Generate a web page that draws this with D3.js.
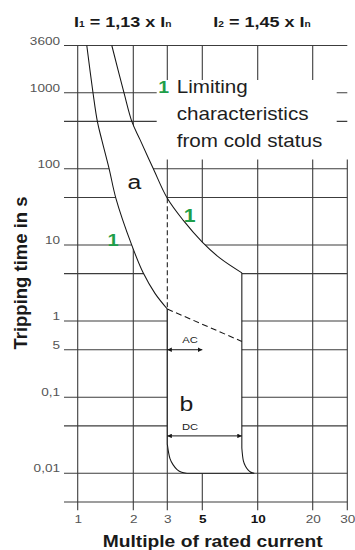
<!DOCTYPE html>
<html><head><meta charset="utf-8">
<script src="https://cdn.jsdelivr.net/npm/d3@7"></script>
<style>body{margin:0;background:#fff} svg{display:block}</style>
</head><body>
<svg id="c" width="355" height="550"></svg>
<script>
// ---------------- data ----------------
const xTicks = [1, 2, 3, 5, 10, 20, 30];
const xTickLabels = ["1", "2", "3", "5", "10", "20", "30"];
const xBoldTicks = [5, 10];
const yGrid = [3600, 1000, 420, 100, 42, 10, 4.2, 1, 0.42, 0.1, 0.042, 0.01, 0.0042];
const yTickValues = [3600, 1000, 100, 10, 1, 0.42, 0.1, 0.01];
const yTickLabels = ["3600", "1000", "100", "10", "1", "5", "0,1", "0,01"];
// thermal band "a": lower and upper limiting characteristic [multiple, seconds]
const curveLower = [[1.12,3600],[1.21,1000],[1.28,410],[1.35,240],[1.48,100],[1.61,41],[1.96,10],[2.25,4.3],[2.59,2.31],[3,1.44]];
const curveUpper = [[1.53,3600],[1.78,1000],[1.97,410],[2.17,240],[2.54,100],[3,41],[3.79,21],[5,10.9],[6.24,6.7],[8.2,4.3]];
// magnetic band "b"
const magLeftEdge = [[3,1.44],[3,0.0242]];
const magCornerLeft = [[3,0.0242],[3.12,0.0156],[3.26,0.013],[3.46,0.0112],[3.7,0.0103],[4,0.01]];
const magBottom = [[4,0.01],[9.58,0.01]];
const magCornerRight = [[9.58,0.01],[9.2,0.0103],[8.86,0.0111],[8.57,0.0125],[8.36,0.0146],[8.2,0.0215]];
const magRightEdge = [[8.2,0.0215],[8.2,4.3]];
const dashedVertical = [[3,41],[3,1.44]];
const dashedDiagonal = [[3,1.44],[8.2,0.54]];
const acArrow = [[3,0.42],[5,0.42]];
const dcArrow = [[3,0.031],[8.2,0.031]];
const titles = [["I","1"," = 1,13 x I","n"],["I","2"," = 1,45 x I","n"]];
const boxLines = ["Limiting", "characteristics", "from cold status"];

// ---------------- setup ----------------
const svg = d3.select("#c");
const FONT = "'Liberation Sans', Arial, Helvetica, sans-serif";
const SX = 1.18;
const GREEN = "#1f9e4a";
const GRID = "#3c3c3c";

const x = d3.scaleLog().domain(xTicks).range([77.7,133.3,167.3,202.3,257.7,312.7,347.3]);
const y = d3.scaleLog().domain([3600, 1000, 0.01]).range([45.5, 92.7, 473.3]);

const gridLeft = 64, gridTop = y(3600), gridBottom = y(0.0042), tickBottom = gridBottom + 8.3;
const box = {x0: 156.7, x1: 336.7, y0: 80, y1: 159.5};

function stext(parent, px, py, str, o) {
  return parent.append("text")
    .attr("transform", `translate(${px},${py}) scale(${o.sx || SX},1)`)
    .attr("font-family", FONT)
    .attr("font-size", o.size)
    .attr("font-weight", o.weight || "normal")
    .attr("fill", o.fill || "#1a1a1a")
    .attr("text-anchor", o.anchor || "start")
    .text(str);
}

// ---------------- grid ----------------
const grid = svg.append("g").attr("stroke", GRID).attr("stroke-width", 1.1).attr("fill", "none");
grid.selectAll("line.h").data(yGrid).join("line")
  .attr("x1", gridLeft).attr("x2", x(30))
  .attr("y1", d => y(d)).attr("y2", d => y(d));
grid.selectAll("line.v").data(xTicks).join("line")
  .attr("x1", d => x(d)).attr("x2", d => x(d))
  .attr("y1", d => d === 30 ? box.y1 : gridTop).attr("y2", tickBottom);

// ---------------- tripping band shape ----------------
const lineGen = c => d3.line().x(d => x(d[0])).y(d => y(d[1])).curve(c);
function join(parts) {
  return parts.map((p, i) => i === 0 ? p : p.replace(/^M/, "L")).join("");
}
const cr = d3.curveCatmullRom.alpha(0.5);
const magParts = () => [
  lineGen(d3.curveLinear)(magLeftEdge),
  lineGen(cr)(magCornerLeft),
  lineGen(d3.curveLinear)(magBottom),
  lineGen(cr)(magCornerRight),
  lineGen(d3.curveLinear)(magRightEdge)
];
const shapeD = join([lineGen(cr)(curveLower), ...magParts(), lineGen(cr)(curveUpper.slice().reverse())]) + "Z";

svg.append("clipPath").attr("id", "belowTop")
  .append("rect").attr("x", 0).attr("y", y(420) + 0.8).attr("width", 355).attr("height", 550);
svg.append("path").attr("d", shapeD).attr("fill", "#fff").attr("clip-path", "url(#belowTop)");

// text box background
svg.append("rect").attr("x", box.x0).attr("y", box.y0)
  .attr("width", box.x1 - box.x0).attr("height", box.y1 - box.y0).attr("fill", "#fff");

// outline
const outline = svg.append("g").attr("fill", "none").attr("stroke", "#161616").attr("stroke-width", 1.05);
outline.append("path").attr("d", lineGen(cr)(curveLower));
outline.append("path").attr("d", lineGen(cr)(curveUpper));
outline.append("path").attr("d", join(magParts()));
outline.append("path").attr("d", lineGen(d3.curveLinear)(dashedVertical)).attr("stroke-dasharray", "5,3");
outline.append("path").attr("d", lineGen(d3.curveLinear)(dashedDiagonal)).attr("stroke-dasharray", "6,3.5");

// arrows
const defs = svg.append("defs");
defs.append("marker").attr("id", "ah").attr("viewBox", "0 0 6 6")
  .attr("refX", 6).attr("refY", 3).attr("markerWidth", 5).attr("markerHeight", 4.5)
  .attr("markerUnits", "userSpaceOnUse").attr("orient", "auto-start-reverse")
  .append("path").attr("d", "M0,0L6,3L0,6Z").attr("fill", "#161616");
[acArrow, dcArrow].forEach(a => {
  svg.append("path").attr("d", lineGen(d3.curveLinear)(a))
    .attr("stroke", "#161616").attr("stroke-width", 1).attr("fill", "none")
    .attr("marker-start", "url(#ah)").attr("marker-end", "url(#ah)");
});
stext(svg, 190, 342.7, "AC", {size: 9.5, anchor: "middle"});
stext(svg, 190, 430, "DC", {size: 9.5, anchor: "middle"});

// ---------------- axes labels ----------------
const yAxis = d3.axisLeft(y).tickValues(yTickValues)
  .tickFormat((d, i) => yTickLabels[i]).tickSize(0).tickPadding(0);
const ya = svg.append("g").attr("transform", "translate(60,0)").call(yAxis);
ya.select(".domain").remove();
ya.selectAll("text").attr("x", 0).attr("dy", "-0.12em")
  .attr("transform", `scale(${SX},1)`)
  .attr("font-family", FONT).attr("font-size", 11.5).attr("fill", "#555");

const xAxis = d3.axisBottom(x).tickValues(xTicks)
  .tickFormat((d, i) => xTickLabels[i]).tickSize(0);
const xa = svg.append("g").attr("transform", "translate(0,523.3)").call(xAxis);
xa.select(".domain").remove();
xa.selectAll("text").attr("y", 0).attr("dy", 0)
  .attr("transform", `scale(${SX},1)`)
  .attr("font-family", FONT).attr("font-size", 11.5)
  .attr("font-weight", d => xBoldTicks.includes(d) ? "bold" : "normal")
  .attr("fill", d => xBoldTicks.includes(d) ? "#111" : "#555");

stext(svg, 212.7, 546.7, "Multiple of rated current", {size: 16.3, weight: "bold", anchor: "middle"});
svg.append("text").attr("transform", "translate(27,273) rotate(-90)")
  .attr("font-family", FONT).attr("font-size", 18.5).attr("font-weight", "bold")
  .attr("fill", "#1a1a1a").attr("text-anchor", "middle").text("Tripping time in s");

// ---------------- titles ----------------
[74, 213.3].forEach((px, i) => {
  const parts = titles[i];
  const t = stext(svg, px, 26.7, "", {size: 15, weight: "bold", sx: 1.2});
  t.attr("xml:space", "preserve");
  t.append("tspan").text(parts[0]);
  t.append("tspan").attr("font-size", 8.5).text(parts[1]);
  t.append("tspan").text(parts[2]);
  t.append("tspan").attr("font-size", 8.5).text(parts[3]);
});

// ---------------- annotations ----------------
stext(svg, 158.3, 93.3, "1", {size: 16.5, weight: "bold", fill: GREEN});
boxLines.forEach((s, i) => stext(svg, 176.7, 93.3 + i * 26.7, s, {size: 17.5, fill: "#1e1e1e"}));
stext(svg, 113, 246, "1", {size: 17, weight: "bold", fill: GREEN, anchor: "middle"});
stext(svg, 189.7, 221.7, "1", {size: 18, weight: "bold", fill: GREEN, anchor: "middle"});
stext(svg, 134.5, 189.3, "a", {size: 21, anchor: "middle"});
stext(svg, 186.3, 410.7, "b", {size: 21, anchor: "middle"});
</script>
</body></html>
